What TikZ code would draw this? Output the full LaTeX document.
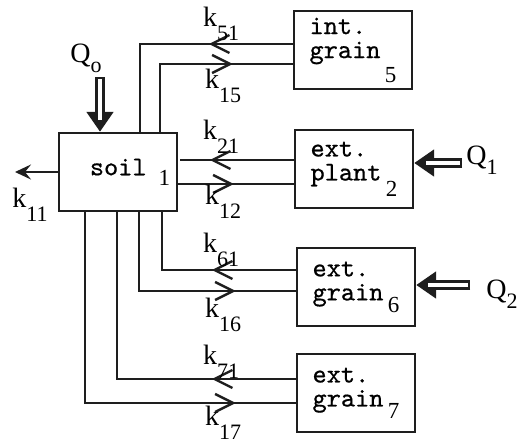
\documentclass[tikz,border=0pt]{standalone}
\usepackage{fontspec}
\setmainfont{Liberation Serif}
\setmonofont{lmmono10-regular.otf}[FakeBold=0.6]
\usetikzlibrary{arrows.meta, decorations.markings}
\definecolor{cink}{HTML}{1E1E1E}
\newcommand{\rate}[1]{k\raisebox{-7pt}{\fontsize{11}{11}\selectfont #1}}
\newcommand{\inflow}[1]{Q\raisebox{-5pt}{\fontsize{11}{11}\selectfont #1}}
\newcommand{\pool}[2][9pt]{\raisebox{-#1}{\rmfamily\fontsize{11.5}{11.5}\selectfont #2}}
\tikzset{
  every picture/.style={line width=1.2pt, x=0.5pt, y=-0.5pt},
  comp/.style={draw=cink, minimum width=59pt, minimum height=39pt, inner sep=2pt, align=left,
    font=\fontsize{13.5}{12}\ttfamily},
  flow/.style={draw=cink, line width=1.2pt},
  back/.style={flow, postaction={decorate}, decoration={markings,
    mark=at position 42pt with {\arrow{Straight Barb[length=9pt, width=9pt, line width=1.2pt]}}}},
  forth/.style={flow, postaction={decorate}, decoration={markings,
    mark=at position -30pt with {\arrow{Straight Barb[length=9pt, width=9pt, line width=1.2pt]}}}},
  supply/.style={draw=cink, line width=4.6pt, -{Triangle[length=10pt, width=13pt]},
    postaction={draw=white, line width=1.8pt, -, shorten <=1.2pt, shorten >=6pt}},
  loss/.style={flow, -{Stealth[length=8pt, width=7.5pt, inset=3pt]}},
  lbl/.style={font=\fontsize{14}{14}\selectfont, inner sep=0pt},
}
\begin{document}
\begin{tikzpicture}
  \useasboundingbox (0,0) rectangle (519,445);

  % ---- compartments
  \node[comp] (soil) at (118,172) {\hspace{12pt}soil\hspace{6pt}\pool[5pt]{1}};
  \node[comp] (g5)   at (353,50)  {int.\\grain\,\pool[12pt]{5}};
  \node[comp] (p2)   at (354,169) {ext.\\plant\,\pool[8pt]{2}};
  \node[comp] (g6)   at (356,287) {ext.\\grain\,\pool[6pt]{6}};
  \node[comp] (g7)   at (356,393) {ext.\\grain\,\pool[6pt]{7}};

  % ---- turning points of the flows
  \coordinate (c51) at (140,44);
  \coordinate (c15) at (160,64);
  \coordinate (c21) at (180,160);
  \coordinate (c12) at (180,184);
  \coordinate (c61) at (162,270);
  \coordinate (c16) at (139,291);
  \coordinate (c71) at (117,379);
  \coordinate (c17) at (85,403);

  % int. grain
  \draw[back]  (g5.west |- c51) -- (c51) -- (soil.north -| c51);
  \draw[forth] (soil.north -| c15) -- (c15) -- (g5.west |- c15);
  % ext. plant
  \draw[back]  (p2.west |- c21) -- (c21);
  \draw[forth] (soil.east |- c12) -- (p2.west |- c12);
  % ext. grain
  \draw[back]  (g6.west |- c61) -- (c61) -- (soil.south -| c61);
  \draw[forth] (soil.south -| c16) -- (c16) -- (g6.west |- c16);
  \draw[back]  (g7.west |- c71) -- (c71) -- (soil.south -| c71);
  \draw[forth] (soil.south -| c17) -- (c17) -- (g7.west |- c17);

  % ---- inputs and loss
  \coordinate (q0) at (100,77);
  \coordinate (q1) at (462,163);
  \coordinate (q2) at (470,285);
  \coordinate (sink) at (15,172);
  \draw[supply] (q0) -- (soil.north -| q0);
  \draw[supply] (q1) -- (p2.east |- q1);
  \draw[supply] (q2) -- (g6.east |- q2);
  \draw[loss] (soil.west) -- (sink);

  % ---- labels
  \node[lbl] (lq0) at (86,58)   {\inflow{o}};
  \node[lbl] (lq1) at (482,160) {\inflow{1}};
  \node[lbl] (lq2) at (502,294) {\inflow{2}};
  \node[lbl] (l11) at (30,205)  {\rate{11}};
  \node[lbl] (l51) at (221,24)  {\rate{51}};
  \node[lbl] (l15) at (223,86)  {\rate{15}};
  \node[lbl] (l21) at (221,137) {\rate{21}};
  \node[lbl] (l12) at (223,202) {\rate{12}};
  \node[lbl] (l61) at (221,250) {\rate{61}};
  \node[lbl] (l16) at (223,315) {\rate{16}};
  \node[lbl] (l71) at (221,362) {\rate{71}};
  \node[lbl] (l17) at (223,423) {\rate{17}};
\end{tikzpicture}
\end{document}
